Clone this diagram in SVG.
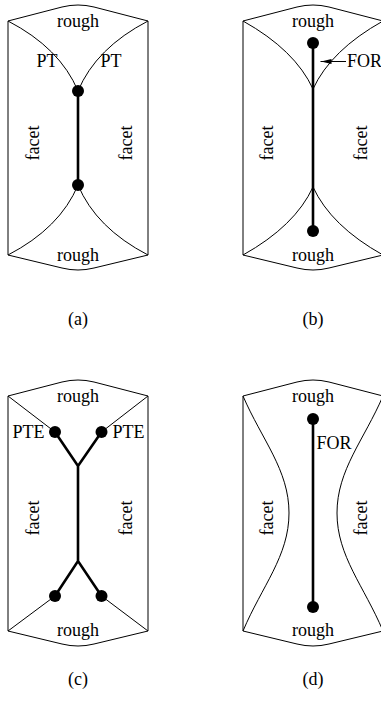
<svg xmlns="http://www.w3.org/2000/svg" width="381" height="706" viewBox="0 0 381 706" font-family="'Liberation Serif', 'Times New Roman', serif">
<style>
.thin{fill:none;stroke:#000;stroke-width:1}
.thick{fill:none;stroke:#000;stroke-width:2.6}
.dot{fill:#000}
text{font-family:'Liberation Serif','Times New Roman',serif;font-size:18px;fill:#000}
.c{text-anchor:middle}
</style>
<defs>
<marker id="ah" viewBox="0 0 11 6" refX="11" refY="3" markerWidth="11" markerHeight="6" markerUnits="userSpaceOnUse" orient="auto">
<path d="M11,3 L0,0.5 L0,5.5 Z" fill="#000"/>
</marker>
</defs>

<!-- Panel (a) -->
<g id="panel-a">
<path class="thin" d="M8,21 L62,7 Q78,3 94,7 L148,21 M8,21 L8,255 M148,21 L148,255 M8,255 L62,268 Q78,272 94,268 L148,255"/>
<path class="thin" d="M8,21 Q60,48 78,91 M148,21 Q96,48 78,91 M8,255 Q60,228 78,185 M148,255 Q96,228 78,185"/>
<path class="thick" d="M78,91 L78,185"/>
<circle class="dot" cx="78" cy="91" r="6"/>
<circle class="dot" cx="78" cy="185" r="6"/>
<text class="c" x="78" y="27">rough</text>
<text class="c" x="78" y="261">rough</text>
<text class="c" x="47" y="67">PT</text>
<text class="c" x="111" y="67">PT</text>
<text class="c" transform="translate(39,143) rotate(-90)">facet</text>
<text class="c" transform="translate(132,143) rotate(-90)">facet</text>
<text class="c" x="78" y="325">(a)</text>
</g>

<!-- Panel (b) -->
<g id="panel-b">
<path class="thin" d="M243,21 L297,7 Q313,3 329,7 L383,21 M243,21 L243,255 M383,21 L383,255 M243,255 L297,268 Q313,272 329,268 L383,255"/>
<path class="thin" d="M243,21 Q295,50 313,89 M383,21 Q331,50 313,89 M243,255 Q295,226 313,187 M383,255 Q331,226 313,187"/>
<path class="thick" d="M313,43 L313,231"/>
<circle class="dot" cx="313" cy="43" r="6"/>
<circle class="dot" cx="313" cy="231" r="6"/>
<text class="c" x="313" y="27">rough</text>
<text class="c" x="313" y="261">rough</text>
<text class="c" transform="translate(273,143) rotate(-90)">facet</text>
<text class="c" transform="translate(367,143) rotate(-90)">facet</text>
<text x="347" y="67">FOR</text>
<text class="c" x="313" y="325">(b)</text>
</g>

<!-- Panel (c) -->
<g id="panel-c">
<path class="thin" d="M8,396 L62,382 Q78,378 94,382 L148,396 M8,396 L8,631 M148,396 L148,631 M8,631 L62,644 Q78,648 94,644 L148,631"/>
<path class="thin" d="M8,396 L55,432 M148,396 L101.5,432 M8,631 L55,596 M148,631 L101.5,596"/>
<path class="thick" d="M55,432 L78,466 L101.5,432 M78,466 L78,561 M55,596 L78,561 L101.5,596"/>
<circle class="dot" cx="55" cy="432" r="6"/>
<circle class="dot" cx="101.5" cy="432" r="6"/>
<circle class="dot" cx="55" cy="596" r="6"/>
<circle class="dot" cx="101.5" cy="596" r="6"/>
<text class="c" x="78" y="402">rough</text>
<text class="c" x="78" y="636">rough</text>
<text class="c" x="28.5" y="438">PTE</text>
<text class="c" x="128.5" y="438">PTE</text>
<text class="c" transform="translate(39,518) rotate(-90)">facet</text>
<text class="c" transform="translate(132,518) rotate(-90)">facet</text>
<text class="c" x="78" y="685">(c)</text>
</g>

<!-- Panel (d) -->
<g id="panel-d">
<path class="thin" d="M243,396 L297,382 Q313,378 329,382 L383,396 M243,396 L243,631 M383,396 L383,631 M243,631 L297,644 Q313,648 329,644 L383,631"/>
<path class="thin" d="M243,396 C262,440 289,470 289,513 C289,556 262,586 243,631 M383,396 C364,440 337,470 337,513 C337,556 364,586 383,631"/>
<path class="thick" d="M313,419 L313,607"/>
<circle class="dot" cx="313" cy="419" r="6"/>
<circle class="dot" cx="313" cy="607" r="6"/>
<text class="c" x="313" y="402">rough</text>
<text class="c" x="313" y="636">rough</text>
<text class="c" x="334" y="449">FOR</text>
<text class="c" transform="translate(273,518) rotate(-90)">facet</text>
<text class="c" transform="translate(367,518) rotate(-90)">facet</text>
<text class="c" x="313" y="685">(d)</text>
</g>

<g id="connectors">
<line class="thin" x1="346" y1="61.5" x2="320.5" y2="61.5" marker-end="url(#ah)"/>
</g>
</svg>
